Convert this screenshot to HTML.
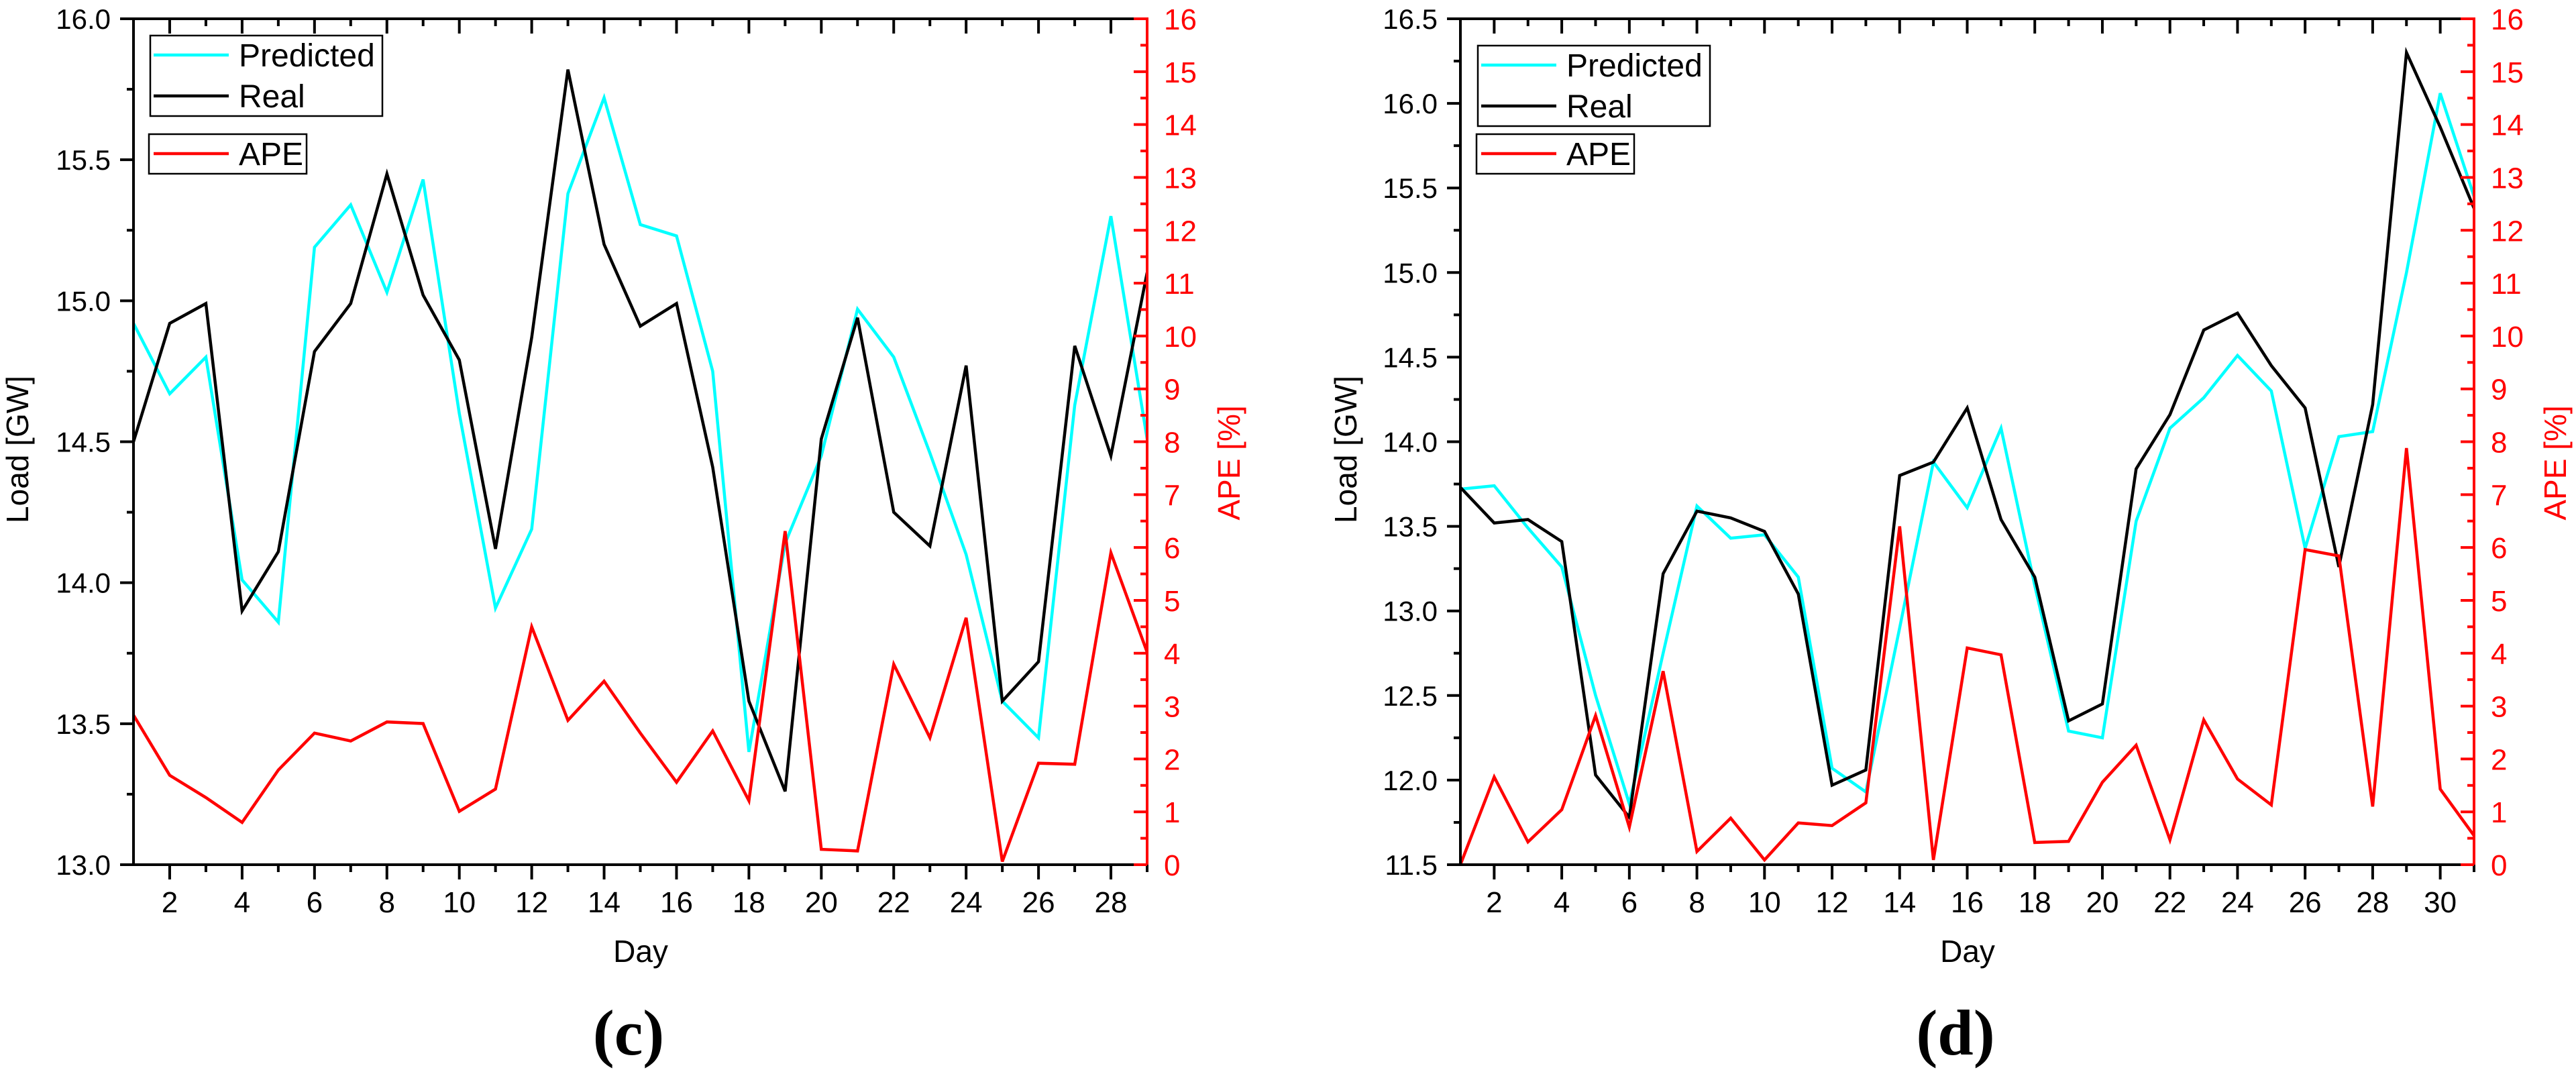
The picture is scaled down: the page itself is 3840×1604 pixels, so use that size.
<!DOCTYPE html>
<html><head><meta charset="utf-8"><style>
html,body{margin:0;padding:0;background:#fff;}
svg{display:block;}
text{font-family:"Liberation Sans",Arial,sans-serif;}
</style></head><body>
<svg id="fig" width="3840" height="1604" viewBox="0 0 3840 1604" xmlns="http://www.w3.org/2000/svg"></svg>
<script>
// ---- Chart (c) data ----
const daysC = [1,2,3,4,5,6,7,8,9,10,11,12,13,14,15,16,17,18,19,20,21,22,23,24,25,26,27,28,29];
const predictedC = [14.92,14.67,14.80,14.01,13.86,15.19,15.34,15.03,15.43,14.60,13.91,14.19,15.38,15.72,15.27,15.23,14.75,13.40,14.14,14.45,14.97,14.80,14.46,14.10,13.58,13.45,14.63,15.30,14.51];
const realC = [14.50,14.92,14.99,13.90,14.11,14.82,14.99,15.45,15.02,14.79,14.12,14.87,15.82,15.20,14.91,14.99,14.41,13.58,13.26,14.51,14.94,14.25,14.13,14.77,13.58,13.72,14.84,14.45,15.10];
const apeC = [2.83,1.69,1.27,0.80,1.79,2.49,2.34,2.70,2.67,1.01,1.43,4.50,2.73,3.47,2.49,1.56,2.53,1.21,6.31,0.29,0.26,3.79,2.40,4.67,0.06,1.92,1.90,5.90,4.02];
const loadTicksC = ["13.0","13.5","14.0","14.5","15.0","15.5","16.0"];
// ---- Chart (d) data ----
const daysD = [1,2,3,4,5,6,7,8,9,10,11,12,13,14,15,16,17,18,19,20,21,22,23,24,25,26,27,28,29,30,31];
const predictedD = [13.72,13.74,13.49,13.26,12.50,11.86,12.75,13.62,13.43,13.45,13.20,12.07,11.93,12.90,13.88,13.61,14.08,13.15,12.29,12.25,13.53,14.08,14.26,14.51,14.30,13.37,14.03,14.06,15.00,16.06,15.45];
const realD = [13.73,13.52,13.54,13.41,12.03,11.78,13.22,13.59,13.55,13.47,13.10,11.97,12.06,13.80,13.88,14.20,13.54,13.20,12.35,12.45,13.84,14.16,14.66,14.76,14.45,14.20,13.26,14.22,16.30,15.86,15.38];
const apeD = [0.00,1.66,0.43,1.04,2.82,0.71,3.66,0.25,0.88,0.09,0.79,0.74,1.17,6.40,0.09,4.10,3.97,0.42,0.44,1.56,2.26,0.47,2.74,1.62,1.13,5.96,5.84,1.10,7.88,1.43,0.55];
const loadTicksD = ["11.5","12.0","12.5","13.0","13.5","14.0","14.5","15.0","15.5","16.0","16.5"];
const apeTicks = ["0","1","2","3","4","5","6","7","8","9","10","11","12","13","14","15","16"];

const NS = "http://www.w3.org/2000/svg";
const fig = document.getElementById('fig');
function mk(tag, attrs, parent, txt){
  const e = document.createElementNS(NS, tag);
  for (const k in attrs) e.setAttribute(k, attrs[k]);
  if (txt !== undefined) e.textContent = txt;
  (parent||fig).appendChild(e);
  return e;
}

function drawChart(cfg){
  const g = mk('g', {});
  
  
  const L = cfg.x0, R = cfg.x1, T = 28, B = 1289;
  const days = cfg.days;
  const dMin = days[0], dMax = days[days.length-1];
  const lMin = parseFloat(cfg.loadTicks[0]), lMax = parseFloat(cfg.loadTicks[cfg.loadTicks.length-1]);
  const aMin = 0, aMax = 16;
  const xs = d => L + (d - dMin) / (dMax - dMin) * (R - L);
  const yl = v => B - (v - lMin) / (lMax - lMin) * (B - T);
  const ya = v => B - (v - aMin) / (aMax - aMin) * (B - T);

  // clip for data
  const cid = 'clip-' + cfg.name;
  const defs = mk('defs', {}, g);
  const cp = mk('clipPath', {id: cid}, defs);
  mk('rect', {x: L, y: T, width: R - L, height: B - T}, cp);

  // series
  function series(vals, scale, color, nm){
    const pts = days.map((d,i) => xs(d).toFixed(1) + ',' + scale(vals[i]).toFixed(1)).join(' ');
    const p = mk('polyline', {points: pts, fill: 'none', stroke: color, 'stroke-width': 4.5, 'stroke-linejoin': 'miter', 'clip-path': 'url(#' + cid + ')'}, g);
    
    
  }
  series(cfg.predicted, yl, '#00ffff', 'predicted-line');
  series(cfg.real, yl, '#000000', 'real-line');
  series(cfg.ape, ya, '#ff0000', 'ape-line');

  // axes lines
  const axB = mk('line', {x1: L-2, y1: B, x2: R, y2: B, stroke: '#000', 'stroke-width': 4}, g);
  
  
  mk('line', {x1: L-2, y1: T, x2: R, y2: T, stroke: '#000', 'stroke-width': 4}, g);
  const axL = mk('line', {x1: L, y1: T-2, x2: L, y2: B+2, stroke: '#000', 'stroke-width': 4}, g);
  
  
  const axR = mk('line', {x1: R, y1: T-2, x2: R, y2: B+2, stroke: '#ff0000', 'stroke-width': 4}, g);
  
  

  // x ticks
  days.forEach(d => {
    const x = xs(d);
    const major = d % 2 === 0;
    if (d !== dMin) mk('line', {x1: x, y1: B, x2: x, y2: B + (major ? 22 : 11), stroke: '#000', 'stroke-width': 4}, g);
    if (d !== dMin && d !== dMax) mk('line', {x1: x, y1: T, x2: x, y2: T + (major ? 22 : 11), stroke: '#000', 'stroke-width': 4}, g);
    if (major) {
      const t = mk('text', {x: x, y: 1360, 'font-size': 44, 'text-anchor': 'middle'}, g, String(d));
      
      
    }
  });
  // load ticks
  for (let i = 0; i < cfg.loadTicks.length; i++) {
    const v = parseFloat(cfg.loadTicks[i]);
    const y = yl(v);
    mk('line', {x1: L - 20, y1: y, x2: L, y2: y, stroke: '#000', 'stroke-width': 4}, g);
    if (i < cfg.loadTicks.length - 1) {
      const ym = yl(v + 0.25);
      mk('line', {x1: L - 10, y1: ym, x2: L, y2: ym, stroke: '#000', 'stroke-width': 4}, g);
    }
    const t = mk('text', {x: L - 34, y: y + 15, 'font-size': 42, 'text-anchor': 'end'}, g, cfg.loadTicks[i]);
    
    
  }
  // ape ticks
  for (let i = 0; i < apeTicks.length; i++) {
    const v = parseFloat(apeTicks[i]);
    const y = ya(v);
    mk('line', {x1: R - 20, y1: y, x2: R, y2: y, stroke: '#ff0000', 'stroke-width': 4}, g);
    if (i < apeTicks.length - 1) {
      const ym = ya(v + 0.5);
      mk('line', {x1: R - 10, y1: ym, x2: R, y2: ym, stroke: '#ff0000', 'stroke-width': 4}, g);
    }
    const t = mk('text', {x: R + 25, y: y + 16, 'font-size': 44, fill: '#ff0000'}, g, apeTicks[i]);
    
    
  }
  // axis titles
  const yt = mk('text', {x: 0, y: 0, 'font-size': 46, 'text-anchor': 'middle', transform: 'translate(' + cfg.loadTitleX + ',670) rotate(-90)'}, g, 'Load [GW]');
  
  
  const at = mk('text', {x: 0, y: 0, 'font-size': 46, fill: '#ff0000', 'text-anchor': 'middle', transform: 'translate(' + cfg.apeTitleX + ',690) rotate(-90)'}, g, 'APE [%]');
  
  
  const xt = mk('text', {x: cfg.dayX, y: 1434, 'font-size': 46, 'text-anchor': 'middle'}, g, 'Day');
  
  
  const pl = mk('text', {x: cfg.dayX - 18, y: 1572, 'font-size': 96, 'font-weight': 'bold', 'text-anchor': 'middle', style: 'font-family:"Liberation Serif",serif'}, g, cfg.panel);
  
  

  // legends
  const lx = cfg.legX;
  const lg1 = mk('g', {}, g);
  
  
  mk('rect', {x: lx, y: cfg.legY, width: 346, height: 120, fill: '#fff', stroke: '#000', 'stroke-width': 2.5}, lg1);
  mk('line', {x1: lx + 5, y1: cfg.legY + 29, x2: lx + 117, y2: cfg.legY + 29, stroke: '#00ffff', 'stroke-width': 4.5}, lg1);
  const e1 = mk('text', {x: lx + 132, y: cfg.legY + 46, 'font-size': 48}, lg1, 'Predicted');
  
  
  mk('line', {x1: lx + 5, y1: cfg.legY + 90, x2: lx + 117, y2: cfg.legY + 90, stroke: '#000', 'stroke-width': 4.5}, lg1);
  const e2 = mk('text', {x: lx + 132, y: cfg.legY + 107, 'font-size': 48}, lg1, 'Real');
  
  
  const lg2 = mk('g', {}, g);
  
  
  mk('rect', {x: lx - 2, y: 200, width: 235, height: 59, fill: '#fff', stroke: '#000', 'stroke-width': 2.5}, lg2);
  mk('line', {x1: lx + 5, y1: 229, x2: lx + 117, y2: 229, stroke: '#ff0000', 'stroke-width': 4.5}, lg2);
  const e3 = mk('text', {x: lx + 132, y: 246, 'font-size': 48}, lg2, 'APE');
  
  
}

drawChart({name: 'chart-c', panel: '(c)', x0: 199, x1: 1710, days: daysC, predicted: predictedC, real: realC, ape: apeC, loadTicks: loadTicksC, loadTitleX: 42, apeTitleX: 1848, dayX: 955, legX: 224, legY: 53});
drawChart({name: 'chart-d', panel: '(d)', x0: 2177, x1: 3688, days: daysD, predicted: predictedD, real: realD, ape: apeD, loadTicks: loadTicksD, loadTitleX: 2022, apeTitleX: 3825, dayX: 2933, legX: 2203, legY: 68});
</script>
</body></html>
